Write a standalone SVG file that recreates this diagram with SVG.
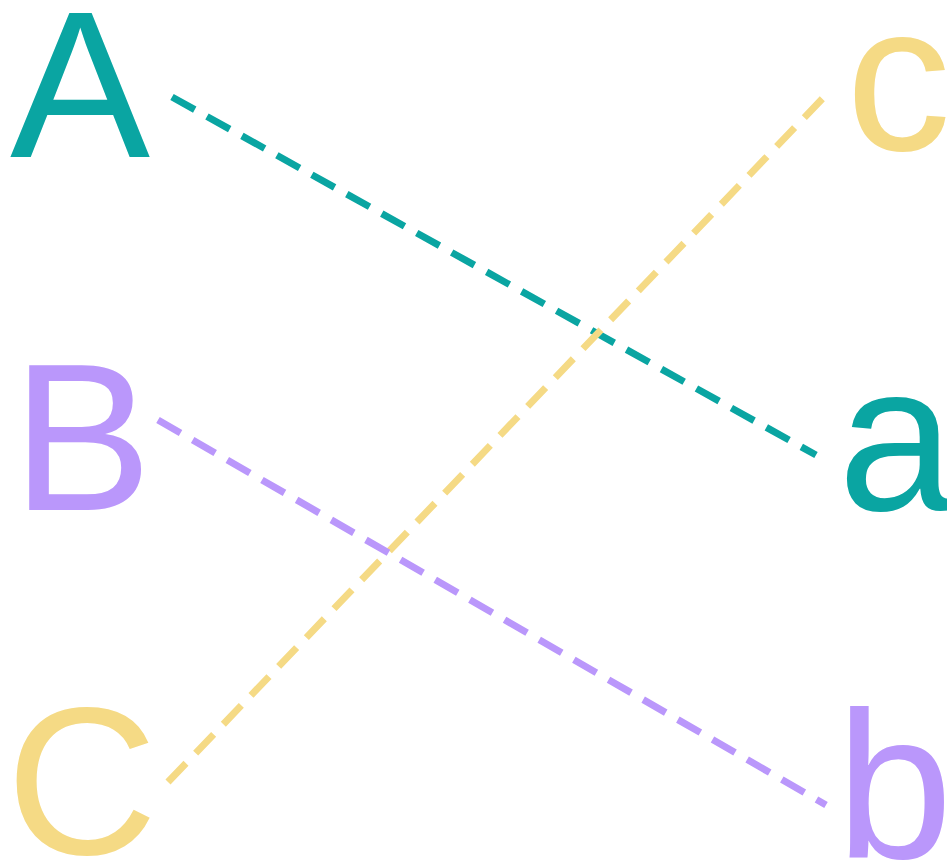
<svg xmlns="http://www.w3.org/2000/svg" width="947" height="865" viewBox="0 0 947 865">
<style>
.t{font-family:"Liberation Sans",Arial,sans-serif;font-size:210px}
.teal{fill:#0AA5A2}.purple{fill:#BA97FB}.yellow{fill:#F5DA85}
.ln{stroke-width:7;stroke-dasharray:26 14;fill:none}
</style>
<rect width="947" height="865" fill="#ffffff"/>
<g id="connectors">
<line class="ln" x1="172" y1="97" x2="816" y2="455" stroke="#0AA5A2"/>
<line class="ln" x1="168" y1="782" x2="824" y2="97" stroke="#F5DA85"/>
<line class="ln" x1="158" y1="420" x2="826" y2="805" stroke="#BA97FB"/>
</g>
<g id="A"><text class="t teal" x="10" y="157">A</text></g>
<g id="B"><text class="t purple" x="12" y="510">B</text></g>
<g id="C"><text class="t yellow" x="6" y="854">C</text></g>
<g id="c"><text class="t yellow" x="846" y="150">c</text></g>
<g id="a"><text class="t teal" x="838" y="510">a</text></g>
<g id="b"><text class="t purple" x="836" y="858">b</text></g>
</svg>
